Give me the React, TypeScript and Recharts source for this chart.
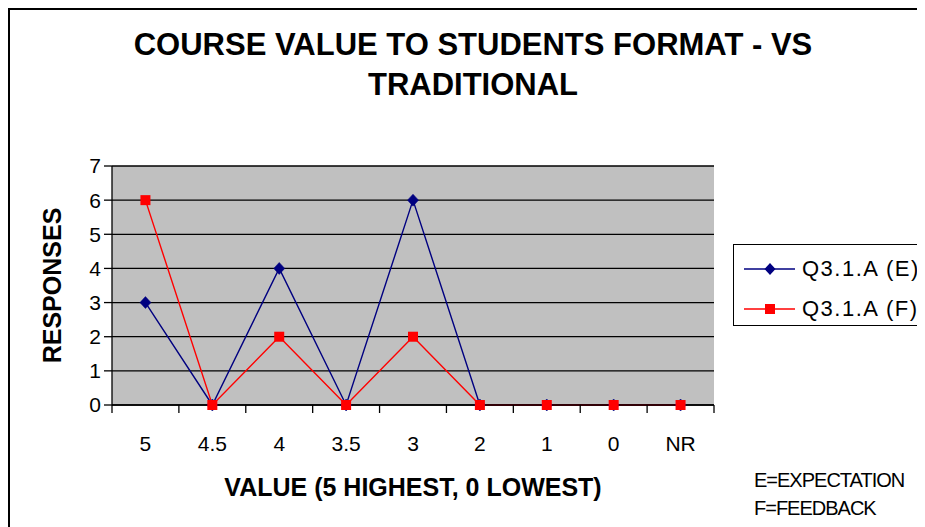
import React from 'react';
import { LineChart, Line, XAxis, YAxis, CartesianGrid } from 'recharts';

const categories = ['5', '4.5', '4', '3.5', '3', '2', '1', '0', 'NR'];
const expectation = [3, 0, 4, 0, 6, 0, 0, 0, 0];
const feedback = [6, 0, 2, 0, 2, 0, 0, 0, 0];
const yTicks = [0, 1, 2, 3, 4, 5, 6, 7];
const seriesNames = ['Q3.1.A (E)', 'Q3.1.A (F)'];
const seriesColors = ['#000080', '#FF0000'];
const titleLines = ['COURSE VALUE TO STUDENTS FORMAT - VS', 'TRADITIONAL'];
const xTitle = 'VALUE (5 HIGHEST, 0 LOWEST)';
const yTitle = 'RESPONSES';
const notes = ['E=EXPECTATION', 'F=FEEDBACK'];

const data = categories.map((c, i) => ({ cat: c, e: expectation[i], f: feedback[i] }));

const FONT = '"Liberation Sans", Arial, sans-serif';

const Diamond = (props: any) => {
  const { cx, cy, index } = props;
  if (cx == null || cy == null) return <g key={'d' + index} />;
  return (
    <path
      key={'d' + index}
      d={`M${cx},${cy - 6} L${cx + 5.5},${cy} L${cx},${cy + 6} L${cx - 5.5},${cy} Z`}
      fill={seriesColors[0]}
      stroke={seriesColors[0]}
      strokeWidth={0.5}
    />
  );
};

const Square = (props: any) => {
  const { cx, cy, index } = props;
  if (cx == null || cy == null) return <g key={'s' + index} />;
  return <rect key={'s' + index} x={cx - 5} y={cy - 5} width={10} height={10} fill={seriesColors[1]} />;
};

const CategoryTick = (props: any) => {
  const { x, y, payload, index, visibleTicksCount, width } = props;
  const half =
    payload && typeof payload.offset === 'number' && payload.offset > 0
      ? payload.offset
      : width / (2 * (visibleTicksCount || categories.length));
  const isLast = index === (visibleTicksCount || categories.length) - 1;
  return (
    <g key={'ct' + index}>
      <line x1={x - half} y1={y} x2={x - half} y2={y + 8} stroke="#000" strokeWidth={1.3} />
      {isLast && <line x1={x + half} y1={y} x2={x + half} y2={y + 8} stroke="#000" strokeWidth={1.3} />}
      <text
        x={x}
        y={y + 38}
        textAnchor="middle"
        dominantBaseline="central"
        fontSize={21}
        fontFamily={FONT}
        fill="#000"
      >
        {payload.value}
      </text>
    </g>
  );
};

const LegendMarker = ({ i }: { i: number }) => (
  <svg width={52} height={14} style={{ display: 'block' }}>
    <line x1={0} y1={7} x2={51} y2={7} stroke={seriesColors[i]} strokeWidth={1.5} />
    {i === 0 ? (
      <path d="M26,1 L31.5,7 L26,13 L20.5,7 Z" fill={seriesColors[0]} />
    ) : (
      <rect x={21} y={2} width={10} height={10} fill={seriesColors[1]} />
    )}
  </svg>
);

export default function App() {
  return (
    <div style={{ position: 'relative', width: 917, height: 519, overflow: 'hidden', fontFamily: FONT }}>
      <LineChart
        width={917}
        height={519}
        data={data}
        margin={{ top: 158, right: 211, left: 0, bottom: 0 }}
      >
        <CartesianGrid
          xAxisId="cat"
          yAxisId="left"
          vertical={false}
          stroke="#000000"
          strokeWidth={1.3}
          fill="#C0C0C0"
          fillOpacity={1}
        />
        <XAxis
          xAxisId="cat"
          dataKey="cat"
          scale="band"
          height={122}
          axisLine={{ stroke: '#000000', strokeWidth: 1.3 }}
          tickLine={false}
          tickSize={0}
          tickMargin={0}
          interval={0}
          tick={CategoryTick}
          label={{
            content: (p: any) => {
              const vb = p.viewBox || {};
              return (
                <text
                  x={vb.x + vb.width / 2}
                  y={479}
                  textAnchor="middle"
                  dominantBaseline="central"
                  fontSize={25}
                  fontWeight="bold"
                  fontFamily={FONT}
                  fill="#000"
                >
                  {xTitle}
                </text>
              );
            },
          }}
        />
        <YAxis
          yAxisId="left"
          width={104}
          domain={[0, 7]}
          ticks={yTicks}
          interval={0}
          tickSize={8}
          tickMargin={3}
          axisLine={{ stroke: '#000000', strokeWidth: 1.3 }}
          tickLine={{ stroke: '#000000', strokeWidth: 1.3 }}
          tick={{ fill: '#000000', fontSize: 21, fontFamily: FONT }}
          label={{
            content: (p: any) => {
              const vb = p.viewBox || {};
              const cy = vb.y + vb.height / 2;
              return (
                <text
                  x={44}
                  y={cy}
                  transform={`rotate(-90, 44, ${cy})`}
                  textAnchor="middle"
                  dominantBaseline="central"
                  fontSize={25}
                  fontWeight="bold"
                  fontFamily={FONT}
                  fill="#000"
                >
                  {yTitle}
                </text>
              );
            },
          }}
        />
        <YAxis
          yAxisId="right"
          orientation="right"
          width={0}
          domain={[0, 7]}
          tick={false}
          tickLine={false}
          axisLine={{ stroke: '#808080', strokeWidth: 1.5 }}
        />
        <Line
          xAxisId="cat"
          yAxisId="left"
          type="linear"
          dataKey="e"
          name={seriesNames[0]}
          stroke={seriesColors[0]}
          strokeWidth={1.4}
          dot={Diamond}
          activeDot={false}
          isAnimationActive={false}
        />
        <Line
          xAxisId="cat"
          yAxisId="left"
          type="linear"
          dataKey="f"
          name={seriesNames[1]}
          stroke={seriesColors[1]}
          strokeWidth={1.4}
          dot={Square}
          activeDot={false}
          isAnimationActive={false}
        />
      </LineChart>

      {/* frame */}
      <div
        style={{
          position: 'absolute',
          left: 0,
          top: 0,
          width: 1000,
          height: 1000,
          borderLeft: '2px solid #000',
          borderTop: '2px solid #000',
          pointerEvents: 'none',
        }}
      />

      {/* title */}
      <div
        style={{
          position: 'absolute',
          left: 0,
          top: 17,
          width: 930,
          textAlign: 'center',
          fontSize: 31,
          fontWeight: 'bold',
          lineHeight: '40px',
          color: '#000',
        }}
      >
        {titleLines.map((t) => (
          <div key={t}>{t}</div>
        ))}
      </div>

      {/* legend */}
      <div
        style={{
          position: 'absolute',
          left: 725,
          top: 236,
          width: 250,
          height: 82,
          border: '1.5px solid #000',
          boxSizing: 'border-box',
          background: '#fff',
        }}
      >
        {seriesNames.map((n, i) => (
          <div
            key={n}
            style={{
              position: 'absolute',
              left: 10,
              top: i === 0 ? 10 : 50,
              height: 28,
              display: 'flex',
              alignItems: 'center',
            }}
          >
            <LegendMarker i={i} />
            <span style={{ marginLeft: 6, fontSize: 22, letterSpacing: 1.5, whiteSpace: 'nowrap' }}>{n}</span>
          </div>
        ))}
      </div>

      {/* notes */}
      {notes.map((n, i) => (
        <div
          key={n}
          style={{
            position: 'absolute',
            left: 746,
            top: i === 0 ? 460 : 488,
            height: 24,
            lineHeight: '24px',
            fontSize: 20,
            letterSpacing: -1,
            whiteSpace: 'nowrap',
            color: '#000',
          }}
        >
          {n}
        </div>
      ))}
    </div>
  );
}
